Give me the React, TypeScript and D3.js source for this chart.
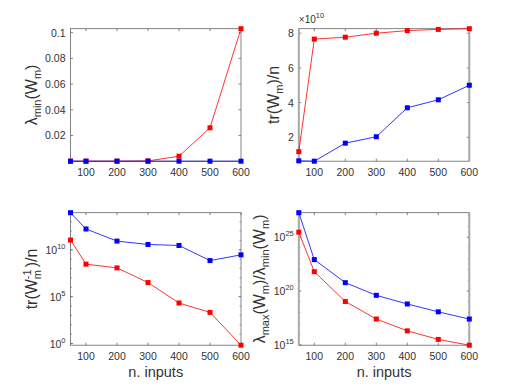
import React from 'react';
import * as d3 from 'd3';

const nInputs = [50, 100, 200, 300, 400, 500, 600];
const xTicks = [100, 200, 300, 400, 500, 600];

const lambdaMinRed = [0, 0, 0, 0.0002, 0.0039, 0.026, 0.1031];
const lambdaMinBlue = [0, 0, 0, 0, 0, 0, 0];

const traceRed = [1.17e10, 7.66e10, 7.77e10, 8.0e10, 8.15e10, 8.22e10, 8.26e10];
const traceBlue = [0.64e10, 0.62e10, 1.66e10, 2.03e10, 3.7e10, 4.16e10, 5.0e10];

const invTraceRed = [1.1e11, 2.95e8, 1.17e8, 3.2e6, 2.1e4, 2.1e3, 0.66];
const invTraceBlue = [9.12e13, 1.66e12, 8.5e10, 3.7e10, 2.9e10, 7.1e8, 2.9e9];

const condRed = [2.95e25, 6.3e21, 1.07e19, 2.5e17, 2.0e16, 3.2e15, 9.3e14];
const condBlue = [1.9e27, 8.3e22, 6.0e20, 4.0e19, 6.3e18, 1.17e18, 2.5e17];

const FONT = 'Liberation Sans, Arial, Helvetica, sans-serif';
const AXIS = '#666';
const TEXT = '#333';
const LBL = 16;
const SUB = 11;

type Tick = { v: number; base?: string; exp?: string };

function Panel({ left, top, w, h, log, red, blue, yTicks, minorTicks, ylabel, xlabel, exponent, edge }: any) {
  const x = d3.scaleLinear().domain([50, 600]).range([left, left + w]);
  const ext = d3.extent([...red, ...blue]) as [number, number];
  const y = (log ? d3.scaleLog() : d3.scaleLinear()).domain(ext).range([top + h, top]);
  const line = d3.line<number>().x((_, i) => x(nInputs[i])).y(d => y(d));
  const bottom = top + h;
  const right = left + w;
  const tl = 2.5;

  return (
    <g fontFamily={FONT}>
      {/* ticks */}
      {xTicks.map(t => (
        <g key={'x' + t} stroke={AXIS} strokeWidth={0.8}>
          <line x1={x(t)} x2={x(t)} y1={bottom} y2={bottom - tl} />
          <line x1={x(t)} x2={x(t)} y1={top} y2={top + tl} />
        </g>
      ))}
      {(yTicks as Tick[]).map(t => (
        <g key={'y' + t.v} stroke={AXIS} strokeWidth={0.8}>
          <line x1={left} x2={left + tl} y1={y(t.v)} y2={y(t.v)} />
          <line x1={right} x2={right - tl} y1={y(t.v)} y2={y(t.v)} />
        </g>
      ))}
      {(minorTicks || []).map((v: number) => (
        <g key={'m' + v} stroke={AXIS} strokeWidth={0.6}>
          <line x1={left} x2={left + 1.5} y1={y(v)} y2={y(v)} />
          <line x1={right} x2={right - 1.5} y1={y(v)} y2={y(v)} />
        </g>
      ))}
      {/* box */}
      <rect x={left} y={top} width={w} height={h} fill="none" stroke={AXIS} strokeWidth={0.8} />
      {edge && (
        <g stroke="#aaa" strokeWidth={2}>
          <line x1={left} x2={left} y1={top} y2={bottom} />
          <line x1={right} x2={right} y1={top} y2={bottom} />
        </g>
      )}
      {/* tick labels */}
      {xTicks.map(t => (
        <text key={'xl' + t} x={x(t)} y={bottom + 15} textAnchor="middle" fontSize={10.5} fill={TEXT}>{t}</text>
      ))}
      {(yTicks as Tick[]).map(t => (
        <text key={'yl' + t.v} x={left - 5} y={y(t.v) + 4} textAnchor="end" fontSize={10.5} fill={TEXT}>
          {t.base}
          {t.exp && <tspan dy={-5} fontSize={7.5}>{t.exp}</tspan>}
        </text>
      ))}
      {exponent && (
        <text x={left} y={top - 6} fontSize={10} fill={TEXT}>
          ×10<tspan dy={-5} fontSize={7.5}>10</tspan>
        </text>
      )}
      {/* series */}
      <path d={line(red) || ''} fill="none" stroke="#ff0000" strokeWidth={0.8} />
      <path d={line(blue) || ''} fill="none" stroke="#0000ff" strokeWidth={0.8} />
      {red.map((d: number, i: number) => (
        <rect key={'r' + i} x={x(nInputs[i]) - 2.5} y={y(d) - 2.5} width={5} height={5} fill="#ff0000" />
      ))}
      {blue.map((d: number, i: number) => (
        <rect key={'b' + i} x={x(nInputs[i]) - 2.5} y={y(d) - 2.5} width={5} height={5} fill="#0000ff" />
      ))}
      {/* labels */}
      <text transform={`translate(${ylabel.x},${top + h / 2}) rotate(-90)`} textAnchor="middle" fontSize={LBL} fill={TEXT}>
        {ylabel.content}
      </text>
      {xlabel && (
        <text x={left + w / 2} y={bottom + 32} textAnchor="middle" fontSize={14.5} fill={TEXT}>n. inputs</text>
      )}
    </g>
  );
}

export default function App() {
  const panelW = 170.5;
  const panelH = 132.5;
  const leftA = 70.5;
  const leftB = 298.8;
  const topA = 28.7;
  const topB = 212.7;

  return (
    <svg width={518} height={388} style={{ position: 'absolute', left: 0, top: 0, background: '#fff' }}>
      <Panel
        left={leftA} top={topA} w={panelW} h={panelH}
        red={lambdaMinRed} blue={lambdaMinBlue}
        yTicks={[0.02, 0.04, 0.06, 0.08, 0.1].map(v => ({ v, base: String(v) }))}
        ylabel={{
          x: 37,
          content: <>λ<tspan dy={4} fontSize={SUB}>min</tspan><tspan dy={-4}>(W</tspan><tspan dy={4} fontSize={SUB}>m</tspan><tspan dy={-4}>)</tspan></>
        }}
      />
      <Panel
        left={leftB} top={topA} w={panelW} h={panelH}
        red={traceRed} blue={traceBlue} exponent edge
        yTicks={[2, 4, 6, 8].map(v => ({ v: v * 1e10, base: String(v) }))}
        ylabel={{
          x: 279,
          content: <>tr(W<tspan dy={4} fontSize={SUB}>m</tspan><tspan dy={-4}>)/n</tspan></>
        }}
      />
      <Panel
        left={leftA} top={topB} w={panelW} h={panelH} log xlabel
        red={invTraceRed} blue={invTraceBlue}
        yTicks={[0, 5, 10].map(e => ({ v: Math.pow(10, e), base: '10', exp: String(e) }))}
        minorTicks={d3.range(0, 14).map(e => Math.pow(10, e))}
        ylabel={{
          x: 37,
          content: <>tr(W<tspan dy={-6} fontSize={SUB}>-1</tspan><tspan dx={-10} dy={10} fontSize={SUB}>m</tspan><tspan dx={3} dy={-4}>)/n</tspan></>
        }}
      />
      <Panel
        left={leftB} top={topB} w={panelW} h={panelH} log xlabel edge
        red={condRed} blue={condBlue}
        yTicks={[15, 20, 25].map(e => ({ v: Math.pow(10, e), base: '10', exp: String(e) }))}
        minorTicks={d3.range(15, 28).map(e => Math.pow(10, e))}
        ylabel={{
          x: 265,
          content: <>λ<tspan dy={4} fontSize={SUB}>max</tspan><tspan dy={-4}>(W</tspan><tspan dy={4} fontSize={SUB}>m</tspan><tspan dy={-4}>)/λ</tspan><tspan dy={4} fontSize={SUB}>min</tspan><tspan dy={-4}>(W</tspan><tspan dy={4} fontSize={SUB}>m</tspan><tspan dy={-4}>)</tspan></>
        }}
      />
    </svg>
  );
}
